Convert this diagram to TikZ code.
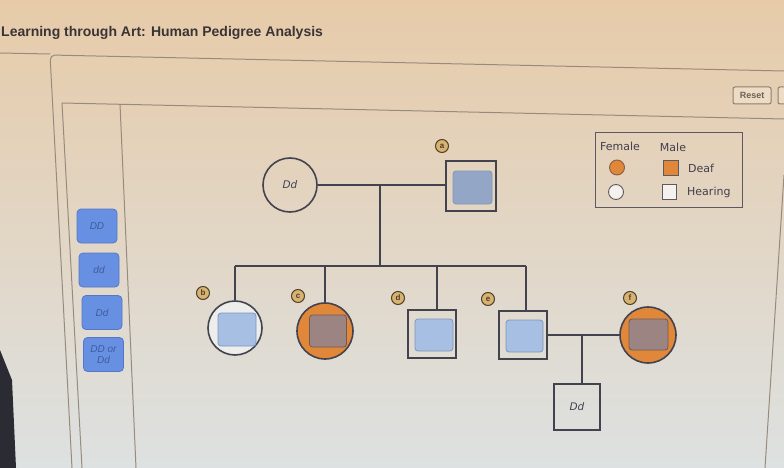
\documentclass[tikz,border=0pt]{standalone}
\usepackage{fontspec}
\setmainfont{Liberation Sans}
\newfontfamily\djv{DejaVu Sans}
\usetikzlibrary{calc}
\definecolor{bgtop}{HTML}{E7CBA9}
\definecolor{bgmid}{HTML}{E6DCCF}
\definecolor{bgbot}{HTML}{DDE1E1}
\definecolor{bezel}{HTML}{2B2B33}
\definecolor{titlec}{HTML}{3A3535}
\definecolor{pedline}{HTML}{43434F}
\definecolor{frameline}{HTML}{978B7E}
\definecolor{orng}{HTML}{E0873A}
\definecolor{orngd}{HTML}{A8602A}
\definecolor{iblue}{HTML}{A8BFE4}
\definecolor{ibluedraw}{HTML}{7F95BC}
\definecolor{iblueA}{HTML}{93A6C6}
\definecolor{ibrown}{HTML}{9C8482}
\definecolor{ibrowndraw}{HTML}{6F5A55}
\definecolor{tagfill}{HTML}{D8B272}
\definecolor{tagdraw}{HTML}{4F4028}
\definecolor{palfill}{HTML}{6890E2}
\definecolor{paldraw}{HTML}{5577C8}
\definecolor{paltext}{HTML}{3E5C9E}
\definecolor{legtext}{HTML}{433E4B}
\definecolor{legdraw}{HTML}{5E5862}
\definecolor{resetd}{HTML}{8A8072}
\definecolor{resett}{HTML}{6A6058}
\definecolor{femwhite}{HTML}{EDEEEC}
\begin{document}
\begin{tikzpicture}[x=1pt,y=-1pt,
  ped/.style={draw=pedline, line width=1.6pt},
  fem/.style={circle, ped, minimum size=54pt, inner sep=0pt, font=\djv\itshape\fontsize{10.5}{12}\selectfont, text=pedline},
  mal/.style={rectangle, ped, minimum size=48pt, inner sep=0pt, font=\djv\itshape\fontsize{10.5}{12}\selectfont, text=pedline},
  inb/.style={rectangle, rounded corners=3pt, fill=iblue, draw=ibluedraw, line width=0.8pt, minimum width=38pt, minimum height=33pt, inner sep=0pt},
  inr/.style={inb, fill=ibrown, draw=ibrowndraw},
  tag/.style={circle, fill=tagfill, draw=tagdraw, line width=1pt, minimum size=13pt, inner sep=0pt, font=\fontsize{8}{8}\selectfont\bfseries, text=tagdraw},
  palbtn/.style={rectangle, rounded corners=4pt, fill=palfill, draw=paldraw, line width=0.8pt, minimum width=40pt, minimum height=34pt, inner sep=1pt, align=center, font=\itshape\fontsize{10}{10.5}\selectfont, text=paltext},
  frame/.style={draw=frameline, line width=1pt},
  legtxt/.style={font=\djv\fontsize{11}{12}\selectfont, text=legtext, inner sep=0pt},
  legsym/.style={draw=legdraw, line width=0.9pt, inner sep=0pt, minimum size=15pt}
]
\useasboundingbox (0,0) rectangle (784,468);
\shade[top color=bgtop, middle color=bgmid, bottom color=bgbot] (0,0) rectangle (784,468);
\fill[bezel] (0,350) -- (12,380) -- (16,468) -- (0,468) -- cycle;

% title
\node[anchor=west, inner sep=0pt, font=\bfseries\fontsize{14}{16}\selectfont, text=titlec] (title) at (1,33) {Learning through Art: Human Pedigree Analysis};

% frames
\draw[frame] (0,53) -- (50,54);
\draw[frame, rounded corners=5pt] (72,468) -- (50,55) -- (784,71);
\draw[frame] (62,103) -- (784,119);
\draw[frame] (82,468) -- (62,103);
\draw[frame] (136,468) -- (120,104);
\draw[frame] (784,175) -- (765,468);

% buttons
\node[draw=resetd, line width=1pt, rounded corners=2pt, fill=bgtop!70!white, minimum width=38pt, minimum height=17pt, inner sep=0pt, font=\bfseries\fontsize{9}{10}\selectfont, text=resett] (reset) at (752,95.5) {Reset};
\draw[draw=resetd, line width=1pt, rounded corners=2pt, fill=bgtop!70!white] (784,87) -- (778,87) -- (778,104) -- (784,104);

% palette
\node[palbtn] (pDD) at (97,226) {DD};
\node[palbtn] (pdd) at (99,270) {dd};
\node[palbtn] (pDd) at (102,312.5) {Dd};
\node[palbtn] (pDDor) at (103.5,354.5) {DD or\\Dd};

% legend
\node[draw=legdraw, line width=1.2pt, minimum width=147pt, minimum height=75pt, anchor=north west, inner sep=0pt] (legend) at (595,132) {};
\node[legtxt] (lfem) at (620,146) {Female};
\node[legtxt] (lmal) at (673,147) {Male};
\node[legsym, circle, fill=orng, draw=orngd!60!legdraw] (lfd) at (617,167.5) {};
\node[legsym, rectangle, fill=orng, minimum size=14.5pt] (lmd) at (671,168) {};
\node[legtxt, anchor=west] (ldeaf) at (688,168) {Deaf};
\node[legsym, circle, fill=white!60!bgmid] (lfh) at (616,192) {};
\node[legsym, rectangle, fill=white!60!bgmid, minimum size=14.5pt] (lmh) at (669.5,192) {};
\node[legtxt, anchor=west] (lhear) at (687,192) {Hearing};

% generation I
\node[fem] (I1) at (290,185) {Dd};
\node[mal, minimum size=50pt] (I2) at (471,186) {};
\node[inb, fill=iblueA, minimum width=39pt, minimum height=33pt] (I2in) at (472.5,187.5) {};
\node[tag] (ta) at (442,146) {a};
\draw[ped] (I1.east) -- (I1.east -| I2.west);
\coordinate (m1) at (380,185);
\coordinate (sc) at (380,266);
\draw[ped] (m1) -- (sc);
\coordinate (sL) at (235,266);
\coordinate (s2) at (325,266);
\coordinate (s3) at (437,266);
\coordinate (sR) at (526,266);
\draw[ped] (sL) -- (sR);

% generation II
\node[fem, fill=femwhite] (II1) at (235,328) {};
\node[inb] (II1in) at (237,329.5) {};
\node[tag] (tb) at (203,293) {b};
\node[fem, fill=orng, minimum size=56pt] (II2) at (325,331) {};
\node[inr, minimum width=37pt, minimum height=32pt] (II2in) at (328,331) {};
\node[tag] (tc) at (298,296) {c};
\node[mal] (II3) at (432,334) {};
\node[inb, minimum height=32pt] (II3in) at (434,335) {};
\node[tag] (td) at (398,298) {d};
\node[mal] (II4) at (523,335) {};
\node[inb, minimum width=37pt, minimum height=32pt] (II4in) at (524.5,336) {};
\node[tag] (te) at (488,299) {e};
\node[fem, fill=orng, minimum size=56pt] (II5) at (648,335) {};
\node[inr, minimum width=39pt, minimum height=31pt] (II5in) at (648.5,334.5) {};
\node[tag] (tf) at (630,298) {f};

\draw[ped] (sL) -- (II1.north);
\draw[ped] (s2) -- (II2.north);
\draw[ped] (s3) -- (s3 |- II3.north);
\draw[ped] (sR) -- (sR |- II4.north);
\draw[ped] (II4.east) -- (II5.west);
\coordinate (m2) at (582,335);

% generation III
\node[mal, minimum size=46pt] (III1) at (577,407) {Dd};
\draw[ped] (m2) -- (m2 |- III1.north);
\end{tikzpicture}
\end{document}
